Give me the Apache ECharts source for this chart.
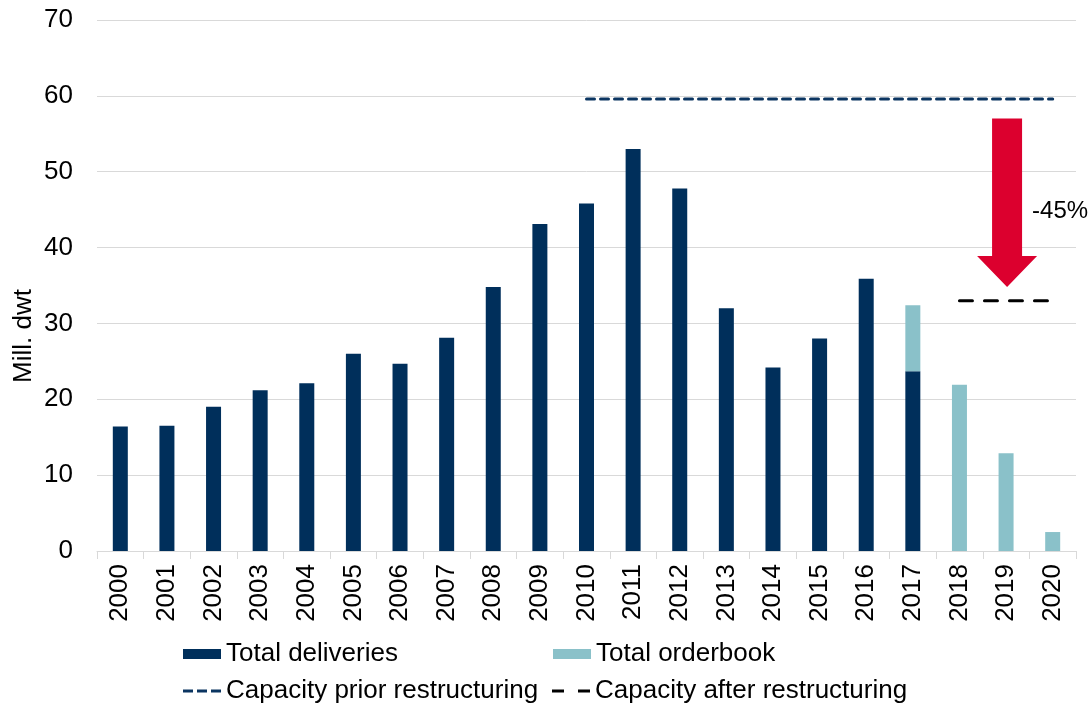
<!DOCTYPE html>
<html>
<head>
<meta charset="utf-8">
<style>
  html, body { margin: 0; padding: 0; background: #ffffff; }
  #chart { width: 1092px; height: 705px; }
</style>
<script src="https://cdn.jsdelivr.net/npm/echarts@6/dist/echarts.min.js"></script>
</head>
<body>
<div id="chart"></div>
<script>
// Years on the category axis
const years = ['2000','2001','2002','2003','2004','2005','2006','2007','2008','2009','2010',
               '2011','2012','2013','2014','2015','2016','2017','2018','2019','2020'];

// Newbuilding deliveries (mill. dwt)
const deliveries = [16.4, 16.5, 19.0, 21.2, 22.1, 26.0, 24.7, 28.1, 34.8, 43.1, 45.8,
                    53.0, 47.8, 32.0, 24.2, 28.0, 35.9, 23.7, null, null, null];

// Remaining orderbook (mill. dwt), stacked on deliveries
const orderbook = [null, null, null, null, null, null, null, null, null, null, null,
                   null, null, null, null, null, null, 8.7, 21.9, 12.9, 2.5];

// Yard capacity levels
const capacityPrior = [null, null, null, null, null, null, null, null, null, null, 59.6,
                       59.6, 59.6, 59.6, 59.6, 59.6, 59.6, 59.6, 59.6, 59.6, 59.6];
const capacityAfter = [null, null, null, null, null, null, null, null, null, null, null,
                       null, null, null, null, null, null, null, 33.0, 33.0, 33.0];

// Capacity reduction arrow
const arrowYear = '2019';
const arrowFrom = 57.0;
const arrowTo = 34.8;
const arrowLabel = '-45%';

const yTicks = { min: 0, max: 70, interval: 10 };

const FONT = '"Liberation Sans", Arial, sans-serif';
const NAVY = '#002f5b';
const TEAL = '#8ac1c9';
const PRIOR = '#0b3561';

// Dashed legend keys drawn as small filled segments
const PRIOR_ICON = 'path://M0,0h10v3h-10z M14,0h10v3h-10z M28,0h10v3h-10z';
const AFTER_ICON = 'path://M0,0h12v3h-12z M26,0h12v3h-12z';

const chart = echarts.init(document.getElementById('chart'), null, { renderer: 'canvas' });

const legendBase = {
  orient: 'horizontal',
  itemWidth: 38,
  itemHeight: 10,
  itemGap: 6,
  textStyle: { fontFamily: FONT, fontSize: 26, color: '#000' },
  selectedMode: false
};

chart.setOption({
  animation: false,
  backgroundColor: '#ffffff',
  grid: { left: 97, right: 16, top: 20, bottom: 154, containLabel: false },
  xAxis: {
    type: 'category',
    data: years,
    boundaryGap: true,
    axisLine: { show: true, lineStyle: { color: '#d9d9d9', width: 1 } },
    axisTick: { show: true, length: 8, lineStyle: { color: '#d9d9d9' } },
    axisLabel: { rotate: 90, margin: 13, fontFamily: FONT, fontSize: 26, color: '#000' }
  },
  yAxis: {
    type: 'value',
    min: yTicks.min,
    max: yTicks.max,
    interval: yTicks.interval,
    axisLine: { show: false },
    axisTick: { show: false },
    splitLine: { lineStyle: { color: '#d9d9d9', width: 1 } },
    axisLabel: { margin: 24, fontFamily: FONT, fontSize: 26, color: '#000' }
  },
  graphic: [{
    type: 'text',
    x: 24,
    y: 336,
    rotation: Math.PI / 2,
    style: {
      text: 'Mill. dwt',
      fontFamily: FONT,
      fontSize: 26,
      fill: '#000',
      align: 'center',
      verticalAlign: 'middle'
    }
  }],
  legend: [
    Object.assign({}, legendBase, { data: ['Total deliveries'], left: 178, top: 636, icon: 'rect' }),
    Object.assign({}, legendBase, { data: ['Total orderbook'], left: 548, top: 636, icon: 'rect' }),
    Object.assign({}, legendBase, {
      data: [{ name: 'Capacity prior restructuring', icon: PRIOR_ICON }],
      left: 178, top: 673, itemStyle: { color: PRIOR }
    }),
    Object.assign({}, legendBase, {
      data: [{ name: 'Capacity after restructuring', icon: AFTER_ICON }],
      left: 547, top: 673, itemStyle: { color: '#000' }
    })
  ],
  series: [
    {
      name: 'Total deliveries',
      type: 'bar',
      stack: 'total',
      data: deliveries,
      barWidth: 15,
      itemStyle: { color: NAVY }
    },
    {
      name: 'Total orderbook',
      type: 'bar',
      stack: 'total',
      data: orderbook,
      barWidth: 15,
      itemStyle: { color: TEAL }
    },
    {
      name: 'Capacity prior restructuring',
      type: 'line',
      data: capacityPrior,
      symbol: 'none',
      connectNulls: false,
      lineStyle: { color: PRIOR, width: 3, type: [8, 6], cap: 'round' },
      itemStyle: { color: PRIOR },
      z: 3
    },
    {
      name: 'Capacity after restructuring',
      type: 'line',
      data: capacityAfter,
      symbol: 'none',
      connectNulls: false,
      lineStyle: { color: '#000000', width: 3, type: [13, 12], cap: 'round' },
      itemStyle: { color: '#000000' },
      z: 3
    },
    {
      name: 'reduction',
      type: 'custom',
      data: [[arrowYear, arrowFrom, arrowTo]],
      encode: { x: 0, y: [1, 2] },
      z: 4,
      renderItem: function (params, api) {
        const cat = api.value(0);
        const top = api.coord([cat, api.value(1)]);
        const tip = api.coord([cat, api.value(2)]);
        const x = top[0] + 1;
        const shaft = 15, head = 30, headH = 31;
        const yTop = top[1], yTip = tip[1];
        return {
          type: 'group',
          children: [
            {
              type: 'polygon',
              shape: {
                points: [
                  [x - shaft, yTop], [x + shaft, yTop], [x + shaft, yTip - headH],
                  [x + head, yTip - headH], [x, yTip], [x - head, yTip - headH],
                  [x - shaft, yTip - headH]
                ]
              },
              style: { fill: '#dc002e' }
            },
            {
              type: 'text',
              x: x + 25,
              y: yTop + (yTip - yTop) * 0.55,
              style: {
                text: arrowLabel,
                fontFamily: FONT,
                fontSize: 24,
                fill: '#000',
                align: 'left',
                verticalAlign: 'middle'
              }
            }
          ]
        };
      }
    }
  ]
});
</script>
</body>
</html>
